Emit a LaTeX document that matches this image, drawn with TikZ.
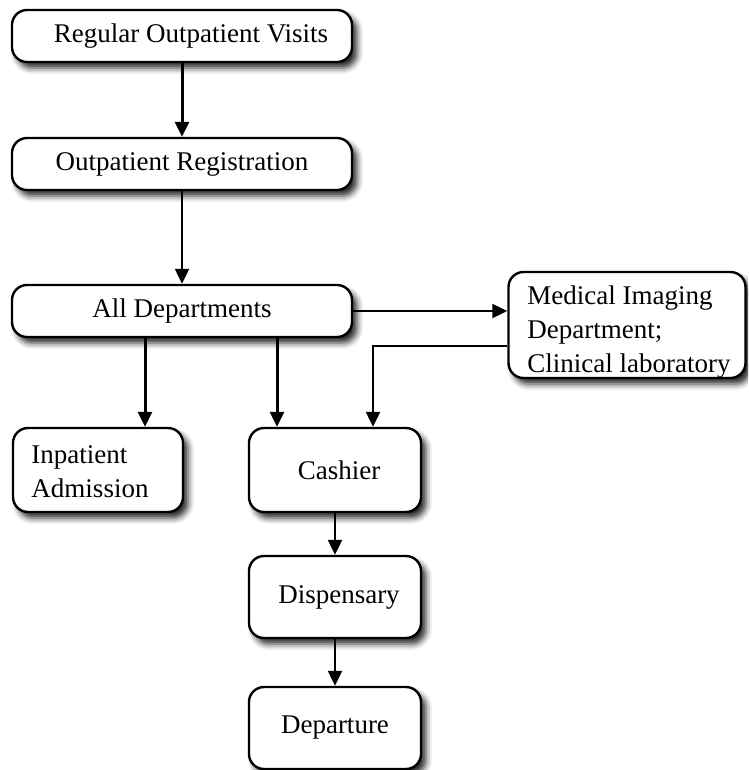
\documentclass[tikz,border=0pt]{standalone}
\usepackage{fontspec}
\setmainfont{Liberation Serif}
\usetikzlibrary{arrows.meta,shadows.blur}
\begin{document}
\begin{tikzpicture}[x=1pt,y=1pt,
  box/.style={draw=black, line width=2.4pt, rounded corners=15pt, fill=white,
    inner sep=0pt, font=\fontsize{27}{34}\selectfont,
    blur shadow={shadow xshift=5pt, shadow yshift=-6pt, shadow blur radius=6pt, shadow opacity=85}},
  arr/.style={line width=2.2pt, -{Triangle[length=15pt,width=14pt]}},
  thickarr/.style={arr, line width=3pt}]
\useasboundingbox (0,0) rectangle (748,-770);
\begin{scope}
\clip (0,0) rectangle (748,-770);
% main chain
\node[box, minimum width=340pt, minimum height=52pt] (visits) at (182,-36) {\hspace{18pt}Regular Outpatient Visits};
\node[box, minimum width=340pt, minimum height=52pt] (reg) at (182,-164) {Outpatient Registration};
\node[box, minimum width=340pt, minimum height=52pt] (dept) at (182,-311) {All Departments};
\node[box, minimum width=237pt, minimum height=106pt] (lab) at (627,-325)
  {\rule{4pt}{0pt}\raisebox{-7pt}[\height][\depth]{\begin{tabular}{@{}l@{}}Medical Imaging\\Department;\\Clinical laboratory\end{tabular}}};
\node[box, minimum width=170pt, minimum height=84pt] (inpat) at (98,-470)
  {\raisebox{-4pt}[\height][\depth]{\begin{tabular}{@{}l@{}}Inpatient\\Admission\end{tabular}}\rule{16pt}{0pt}};
\node[box, minimum width=172pt, minimum height=84pt] (cash) at (335,-470) {\hspace{8pt}Cashier};
\node[box, minimum width=172pt, minimum height=82pt] (disp) at (335,-597) {\hspace{8pt}Dispensary};
\node[box, minimum width=172pt, minimum height=82pt] (dep) at (335,-728) {Departure};
% x positions of the vertical connectors
\coordinate (xin) at (145,0);
\coordinate (xcash) at (277,0);
\coordinate (xlab) at (373,0);
\coordinate (ylab) at (0,-346);
% connectors
\draw[thickarr] (visits.south -| reg.north) -- (reg.north);
\draw[arr] (reg.south) -- (dept.north);
\draw[arr] (dept.east) -- (lab.west |- dept.east);
\draw[thickarr] (dept.south -| xin) -- (inpat.north -| xin);
\draw[thickarr] (dept.south -| xcash) -- (cash.north -| xcash);
\draw[arr] (lab.west |- ylab) -- (xlab |- ylab) -- (cash.north -| xlab);
\draw[arr] (cash.south) -- (disp.north);
\draw[arr] (disp.south) -- (dep.north);
\end{scope}
\end{tikzpicture}
\end{document}
